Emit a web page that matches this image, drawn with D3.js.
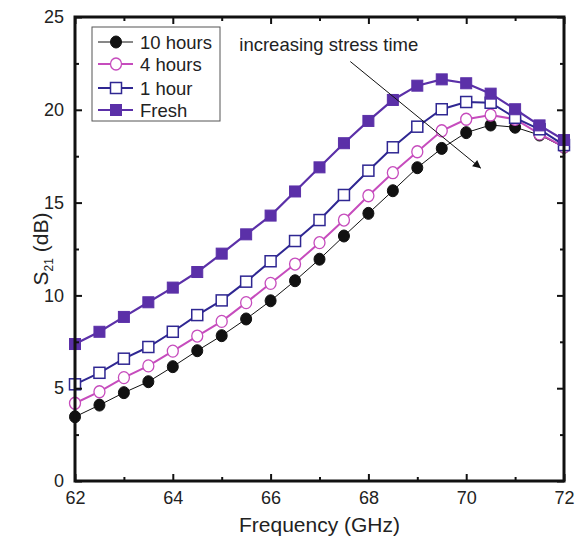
<!DOCTYPE html>
<html>
<head>
<meta charset="utf-8">
<script src="https://cdn.jsdelivr.net/npm/d3@7"></script>
<style>
  body { margin: 0; background: #fff; }
  text { font-family: "Liberation Sans", Arial, sans-serif; fill: #222; }
</style>
</head>
<body>
<div id="chart-area"></div>
<script>
const freq = [62, 62.5, 63, 63.5, 64, 64.5, 65, 65.5, 66, 66.5, 67, 67.5, 68, 68.5, 69, 69.5, 70, 70.5, 71, 71.5, 72]

const hours10 = [3.46, 4.09, 4.76, 5.35, 6.16, 7.02, 7.83, 8.73, 9.71, 10.79, 11.95, 13.2, 14.42, 15.64, 16.88, 17.92, 18.77, 19.18, 19.06, 18.64, 17.98]
const hours4 = [4.19, 4.81, 5.57, 6.2, 7.0, 7.81, 8.6, 9.61, 10.65, 11.69, 12.84, 14.06, 15.37, 16.61, 17.74, 18.87, 19.49, 19.72, 19.49, 18.7, 18.0]
const hour1 = [5.21, 5.83, 6.59, 7.22, 8.04, 8.94, 9.73, 10.74, 11.84, 12.93, 14.06, 15.41, 16.72, 17.98, 19.09, 20.03, 20.42, 20.38, 19.57, 18.95, 18.1]
const fresh = [7.38, 8.04, 8.84, 9.63, 10.42, 11.26, 12.25, 13.29, 14.3, 15.6, 16.9, 18.2, 19.4, 20.53, 21.3, 21.64, 21.43, 20.87, 20.03, 19.16, 18.37]

const seriesNames = ["10 hours", "4 hours", "1 hour", "Fresh"]
const xTicks = [62, 64, 66, 68, 70, 72]
const yTicks = [0, 5, 10, 15, 20, 25]

const W = 579, H = 542
const MARGIN = { left: 75, right: 15, top: 17, bottom: 61 }
const WIDTH = W - MARGIN.left - MARGIN.right
const HEIGHT = H - MARGIN.top - MARGIN.bottom

const svg = d3.select("#chart-area").append("svg")
    .attr("width", W)
    .attr("height", H)

const g = svg.append("g")
    .attr("transform", `translate(${MARGIN.left}, ${MARGIN.top})`)

const x = d3.scaleLinear().domain([62, 72]).range([0, WIDTH])
const y = d3.scaleLinear().domain([0, 25]).range([HEIGHT, 0])

const series = [
    { name: seriesNames[0], values: hours10, color: "#111", width: 1, marker: "circle", fill: "#111" },
    { name: seriesNames[1], values: hours4, color: "#c64cbd", width: 2, marker: "circle", fill: "#fff" },
    { name: seriesNames[2], values: hour1, color: "#2f2792", width: 2, marker: "square", fill: "#fff" },
    { name: seriesNames[3], values: fresh, color: "#5b30a8", width: 2.2, marker: "square", fill: "#5b30a8" }
]

const line = d3.line()
    .x((d, i) => x(freq[i]))
    .y(d => y(d))

function drawMarker(sel, s, cx, cy) {
    if (s.marker === "circle") {
        sel.append("ellipse")
            .attr("cx", cx).attr("cy", cy)
            .attr("rx", 5.5).attr("ry", 6)
            .attr("fill", s.fill)
            .attr("stroke", s.color)
            .attr("stroke-width", s.fill === "#fff" ? 1.3 : 1)
    } else {
        sel.append("rect")
            .attr("x", cx - 5.5).attr("y", cy - 5.5)
            .attr("width", 11).attr("height", 11)
            .attr("fill", s.fill)
            .attr("stroke", s.color)
            .attr("stroke-width", s.fill === "#fff" ? 1.5 : 1)
    }
}

// series, 10 hours first so Fresh ends on top
series.forEach(s => {
    g.append("path")
        .datum(s.values)
        .attr("d", line)
        .attr("fill", "none")
        .attr("stroke", s.color)
        .attr("stroke-width", s.width)
    const mg = g.append("g")
    s.values.forEach((v, i) => drawMarker(mg, s, x(freq[i]), y(v)))
})

// axes with inward ticks, box frame
const xAxis = d3.axisBottom(x).tickValues(xTicks).tickSize(-7).tickPadding(10).tickFormat(d3.format("d"))
const xMinor = d3.axisBottom(x).tickValues([63, 65, 67, 69, 71]).tickSize(-4).tickFormat("")
const yAxis = d3.axisLeft(y).tickValues(yTicks).tickSize(-7).tickPadding(11)
const yMinor = d3.axisLeft(y).tickValues([2.5, 7.5, 12.5, 17.5, 22.5]).tickSize(-4).tickFormat("")

function styleAxis(a) {
    a.select(".domain").remove()
    a.selectAll("line").attr("stroke", "#111").attr("stroke-width", 2)
    a.selectAll("text").attr("font-size", "18px").attr("fill", "#222")
}

g.append("g").attr("transform", `translate(0, ${HEIGHT})`).call(xAxis).call(styleAxis)
g.append("g").attr("transform", `translate(0, ${HEIGHT})`).call(xMinor).call(styleAxis)
g.append("g").call(yAxis).call(styleAxis)
g.append("g").call(yMinor).call(styleAxis)
g.append("g").call(d3.axisTop(x).tickValues(xTicks).tickSize(-7).tickFormat("")).call(styleAxis)
g.append("g").call(d3.axisTop(x).tickValues([63, 65, 67, 69, 71]).tickSize(-4).tickFormat("")).call(styleAxis)
g.append("g").attr("transform", `translate(${WIDTH}, 0)`)
    .call(d3.axisRight(y).tickValues(yTicks).tickSize(-7).tickFormat("")).call(styleAxis)
g.append("g").attr("transform", `translate(${WIDTH}, 0)`)
    .call(d3.axisRight(y).tickValues([2.5, 7.5, 12.5, 17.5, 22.5]).tickSize(-4).tickFormat("")).call(styleAxis)

g.append("rect")
    .attr("width", WIDTH).attr("height", HEIGHT)
    .attr("fill", "none").attr("stroke", "#111").attr("stroke-width", 3)

// axis labels
g.append("text")
    .attr("x", WIDTH / 2)
    .attr("y", HEIGHT + 51)
    .attr("font-size", "21px")
    .attr("text-anchor", "middle")
    .text("Frequency (GHz)")

const yl = g.append("text")
    .attr("transform", `translate(-27, ${HEIGHT / 2}) rotate(-90)`)
    .attr("font-size", "21px")
    .attr("text-anchor", "middle")
yl.append("tspan").text("S")
yl.append("tspan").attr("font-size", "12px").attr("dy", 5).text("21")
yl.append("tspan").attr("dy", -5).text(" (dB)")

// annotation arrow
svg.append("defs").append("marker")
    .attr("id", "arrow")
    .attr("viewBox", "0 0 10 10")
    .attr("refX", 10).attr("refY", 5)
    .attr("markerWidth", 10).attr("markerHeight", 8)
    .attr("markerUnits", "userSpaceOnUse")
    .attr("orient", "auto")
    .append("path").attr("d", "M0,0 L10,5 L0,10 Z").attr("fill", "#111")

g.append("line")
    .attr("x1", x(67.63)).attr("y1", y(22.6))
    .attr("x2", x(70.3)).attr("y2", y(16.85))
    .attr("stroke", "#111").attr("stroke-width", 1)
    .attr("marker-end", "url(#arrow)")

g.append("text")
    .attr("x", x(65.36))
    .attr("y", y(23.15))
    .attr("font-size", "18.5px")
    .text("increasing stress time")

// legend
const legend = g.append("g").attr("transform", `translate(${92 - MARGIN.left}, ${27 - MARGIN.top})`)
legend.append("rect")
    .attr("width", 128).attr("height", 94)
    .attr("fill", "#fff").attr("stroke", "#555").attr("stroke-width", 1)
const rowY = [15, 37, 61, 83]
series.forEach((s, i) => {
    const row = legend.append("g").attr("transform", `translate(0, ${rowY[i]})`)
    row.append("line")
        .attr("x1", 6).attr("x2", 41)
        .attr("stroke", s.color).attr("stroke-width", s.width)
    drawMarker(row, s, 24, 0)
    row.append("text")
        .attr("x", 48).attr("y", 6.5)
        .attr("font-size", "18.5px")
        .text(s.name)
})
</script>
</body>
</html>
